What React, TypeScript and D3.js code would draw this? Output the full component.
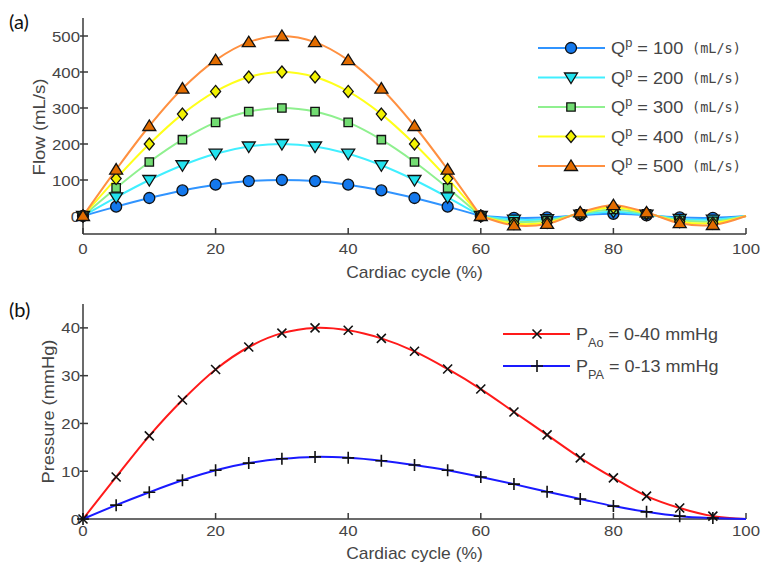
import React from 'react';
import * as d3 from 'd3';

// ---------- data ----------
const cycle = [0, 5, 10, 15, 20, 25, 30, 35, 40, 45, 50, 55, 60, 65, 70, 75, 80, 85, 90, 95, 100];
const flowLevels = [100, 200, 300, 400, 500];
const flow100 = [0, 26, 50, 71, 87, 97, 100, 97, 87, 71, 50, 26, 0, -5, -4, 2, 6, 2, -4, -5, 0];
const flow200 = [0, 52, 100, 141, 173, 193, 200, 193, 173, 141, 100, 52, 0, -10, -9, 4, 12, 4, -8, -10, 0];
const flow300 = [0, 78, 150, 212, 260, 290, 300, 290, 260, 212, 150, 78, 0, -16, -13, 6, 18, 6, -12, -15, 0];
const flow400 = [0, 104, 200, 283, 346, 386, 400, 386, 346, 283, 200, 104, 0, -21, -18, 8, 24, 8, -16, -20, 0];
const flow500 = [0, 129, 250, 354, 433, 483, 500, 483, 433, 354, 250, 129, 0, -26, -22, 10, 30, 10, -20, -25, 0];
const pressureAo = [0, 8.8, 17.4, 24.9, 31.3, 36.0, 38.9, 40.0, 39.5, 37.8, 35.1, 31.4, 27.2, 22.4, 17.6, 12.8, 8.6, 4.8, 2.3, 0.6, 0];
const pressurePA = [0, 2.9, 5.6, 8.1, 10.2, 11.7, 12.6, 13.0, 12.8, 12.2, 11.3, 10.2, 8.8, 7.3, 5.7, 4.2, 2.7, 1.5, 0.6, 0.2, 0];
const xTicks = [0, 20, 40, 60, 80, 100];
const flowTicks = [0, 100, 200, 300, 400, 500];
const pressureTicks = [0, 10, 20, 30, 40];

const flowSeries = [flow100, flow200, flow300, flow400, flow500];
const flowLine = ['#3094ff', '#40efff', '#8ff08f', '#ffff1a', '#ff9040'];
const flowFill = ['#1478ec', '#22e2ee', '#72dc72', '#f2f200', '#e26c00'];
const flowMarker = ['circle', 'triDown', 'square', 'diamond', 'triUp'];

const AX = '#3a3a3a';
const TXT = '#454545';
const SANS = 'Liberation Sans, Arial, sans-serif';
const MONO = 'DejaVu Sans Mono, Liberation Mono, monospace';

function markerPath(kind: string): string {
  switch (kind) {
    case 'circle':
      return d3.symbol(d3.symbolCircle, Math.PI * 5.5 * 5.5)() as string;
    case 'triDown':
      return 'M-6.5,-4.5L6.5,-4.5L0,6Z';
    case 'triUp':
      return 'M-6.5,4.5L6.5,4.5L0,-6Z';
    case 'square':
      return 'M-4.2,-4.2H4.2V4.2H-4.2Z';
    case 'diamond':
      return 'M0,-6L5,0L0,6L-5,0Z';
    case 'x':
      return 'M-4.5,-4.5L4.5,4.5M-4.5,4.5L4.5,-4.5';
    case 'plus':
      return 'M-6,0H6M0,-6V6';
  }
  return '';
}

type TProps = {
  x: number;
  y: number;
  size: number;
  sx?: number;
  rot?: number;
  anchor?: string;
  family?: string;
  fill?: string;
  children?: React.ReactNode;
};
function T({ x, y, size, sx = 1.12, rot = 0, anchor = 'start', family = SANS, fill = TXT, children }: TProps) {
  return (
    <text
      transform={`translate(${x},${y}) rotate(${rot}) scale(${sx},1)`}
      textAnchor={anchor}
      fontSize={size}
      fontFamily={family}
      fill={fill}
    >
      {children}
    </text>
  );
}

export default function App() {
  const x = d3.scaleLinear().domain([0, 100]).range([83, 746]);
  const yA = d3.scaleLinear().domain([-50, 550]).range([234, 18]);
  const yB = d3.scaleLinear().domain([0, 45]).range([519, 304]);

  const idx = cycle.map((_, i) => i);
  const sys = idx.filter((i) => cycle[i] <= 60);
  const dia = idx.filter((i) => cycle[i] >= 60);
  const mk = idx.filter((i) => cycle[i] < 100);

  const flowPath = (vals: number[]) => {
    const g = d3
      .line<number>()
      .x((i) => x(cycle[i]))
      .y((i) => yA(vals[i]))
      .curve(d3.curveCatmullRom.alpha(0.5));
    return (g(sys) || '') + (g(dia) || '');
  };
  const presPath = (vals: number[]) =>
    d3
      .line<number>()
      .x((i) => x(cycle[i]))
      .y((i) => yB(vals[i]))
      .curve(d3.curveCatmullRom.alpha(0.5))(idx) || '';

  const xAxis = (y0: number, labelY: number, titleY: number) => (
    <g>
      <line x1={x(0)} x2={x(100)} y1={y0} y2={y0} stroke={AX} strokeWidth={1.5} />
      {xTicks.map((t) => (
        <g key={t}>
          <line x1={x(t)} x2={x(t)} y1={y0} y2={y0 - 6} stroke={AX} strokeWidth={1.5} />
          <T x={x(t)} y={labelY} size={15} anchor="middle">
            {t}
          </T>
        </g>
      ))}
      <T x={(x(0) + x(100)) / 2} y={titleY} size={16} sx={1.09} anchor="middle">
        Cardiac cycle (%)
      </T>
    </g>
  );

  return (
    <svg width={762} height={566} style={{ position: 'absolute', left: 0, top: 0, background: '#fff' }}>
      <rect width={762} height={566} fill="#fff" />
      {/* ---------- panel (a) ---------- */}
      <T x={9} y={29} size={20} sx={1} family="Lato, Open Sans, sans-serif" fill="#111">
        (a)
      </T>
      <line x1={x(0)} x2={x(0)} y1={yA(550)} y2={yA(-50)} stroke={AX} strokeWidth={1.5} />
      {flowTicks.map((t) => (
        <g key={t}>
          <line x1={x(0) - 3} x2={x(0) + 5} y1={yA(t)} y2={yA(t)} stroke={AX} strokeWidth={1.5} />
          <T x={x(0) - 3} y={yA(t) + 5.5} size={15} anchor="end">
            {t}
          </T>
        </g>
      ))}
      <T x={45} y={yA(250) + 1} size={16} sx={1.16} rot={-90} anchor="middle">
        Flow (mL/s)
      </T>
      {xAxis(yA(-50), 254, 278)}
      {flowSeries.map((vals, s) => (
        <path key={'l' + s} d={flowPath(vals)} fill="none" stroke={flowLine[s]} strokeWidth={2} />
      ))}
      {flowSeries.map((vals, s) => (
        <g key={'m' + s}>
          {mk.map((i) => (
            <path
              key={i}
              d={markerPath(flowMarker[s])}
              transform={`translate(${x(cycle[i])},${yA(vals[i])})`}
              fill={flowFill[s]}
              stroke="#111"
              strokeWidth={1.3}
            />
          ))}
        </g>
      ))}
      {/* legend (a) */}
      {flowLevels.map((q, s) => {
        const ly = 48 + s * 29.5;
        return (
          <g key={'lg' + s}>
            <line x1={538} x2={605} y1={ly} y2={ly} stroke={flowLine[s]} strokeWidth={2} />
            <path
              d={markerPath(flowMarker[s])}
              transform={`translate(571,${ly})`}
              fill={flowFill[s]}
              stroke="#111"
              strokeWidth={1.3}
            />
            <T x={611} y={ly + 6} size={17} sx={1.07}>
              Q
              <tspan dy={-7} fontSize={12}>p</tspan>
              <tspan dy={7}>{` = ${q}`}</tspan>
            </T>
            <T x={692} y={ly + 5} size={13.5} sx={1} family={MONO}>
              (mL/s)
            </T>
          </g>
        );
      })}

      {/* ---------- panel (b) ---------- */}
      <T x={9} y={317} size={20} sx={1} family="Lato, Open Sans, sans-serif" fill="#111">
        (b)
      </T>
      <line x1={x(0)} x2={x(0)} y1={yB(45)} y2={yB(0)} stroke={AX} strokeWidth={1.5} />
      {pressureTicks.map((t) => (
        <g key={t}>
          <line x1={x(0) - 3} x2={x(0) + 5} y1={yB(t)} y2={yB(t)} stroke={AX} strokeWidth={1.5} />
          <T x={x(0) - 3} y={yB(t) + 5.5} size={15} anchor="end">
            {t}
          </T>
        </g>
      ))}
      <T x={54} y={yB(22.5)} size={16} sx={1.14} rot={-90} anchor="middle">
        Pressure (mmHg)
      </T>
      {xAxis(yB(0), 536, 559)}
      <path d={presPath(pressureAo)} fill="none" stroke="#ff1a1a" strokeWidth={2} />
      <path d={presPath(pressurePA)} fill="none" stroke="#1a1aff" strokeWidth={2} />
      {mk.map((i) => (
        <path
          key={'pa' + i}
          d={markerPath('x')}
          transform={`translate(${x(cycle[i])},${yB(pressureAo[i])})`}
          fill="none"
          stroke="#111"
          strokeWidth={1.6}
        />
      ))}
      {mk.map((i) => (
        <path
          key={'pp' + i}
          d={markerPath('plus')}
          transform={`translate(${x(cycle[i])},${yB(pressurePA[i])})`}
          fill="none"
          stroke="#111"
          strokeWidth={1.6}
        />
      ))}
      {/* legend (b) */}
      {[
        { c: '#ff1a1a', m: 'x', sub: 'Ao', rest: ' = 0-40 mmHg', y: 334 },
        { c: '#1a1aff', m: 'plus', sub: 'PA', rest: ' = 0-13 mmHg', y: 366 },
      ].map((d) => (
        <g key={d.sub}>
          <line x1={503} x2={570} y1={d.y} y2={d.y} stroke={d.c} strokeWidth={2} />
          <path d={markerPath(d.m)} transform={`translate(537,${d.y})`} fill="none" stroke="#111" strokeWidth={1.6} />
          <T x={576} y={d.y + 6} size={17} sx={1.06}>
            P
            <tspan dy={7} fontSize={12}>{d.sub}</tspan>
            <tspan dy={-7}>{d.rest}</tspan>
          </T>
        </g>
      ))}
    </svg>
  );
}
